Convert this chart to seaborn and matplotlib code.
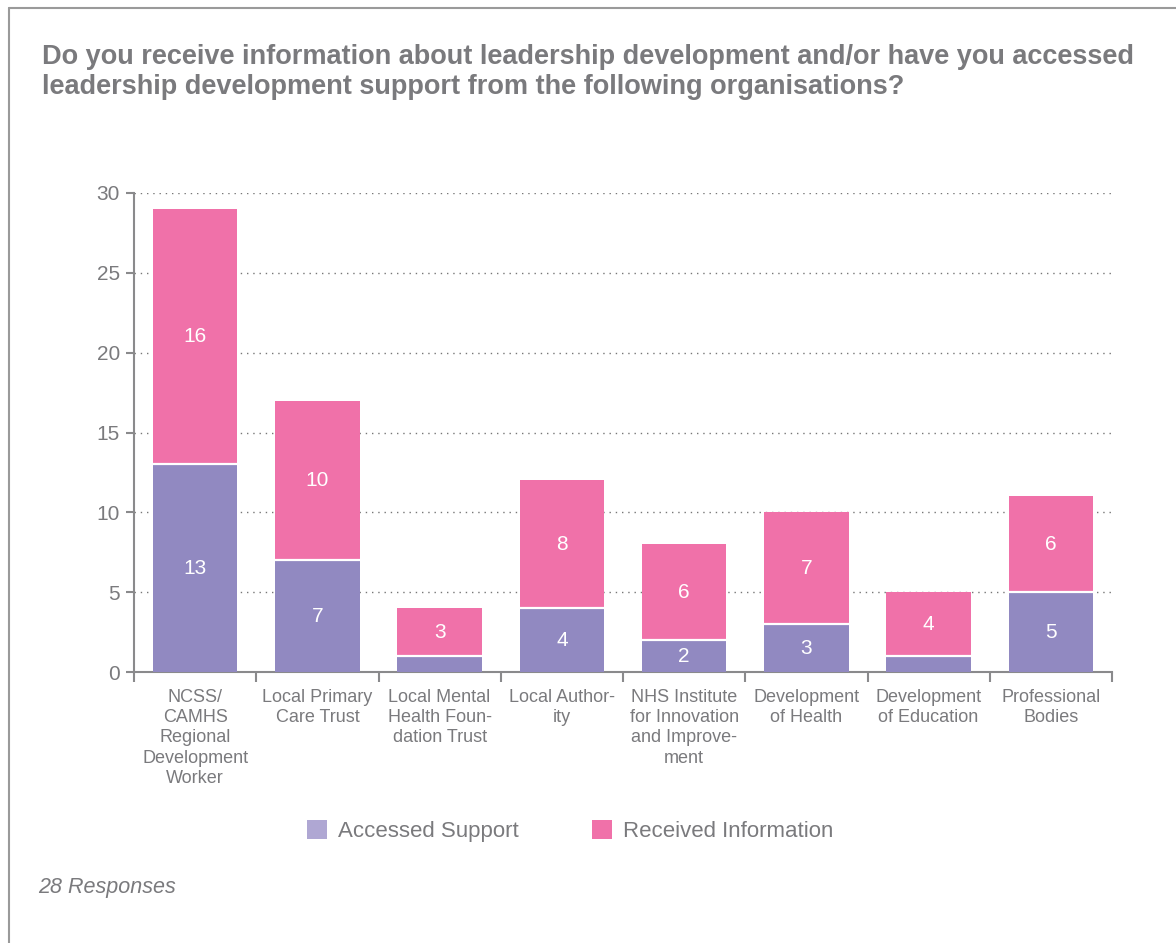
import matplotlib
matplotlib.use("Agg")
import matplotlib.pyplot as plt
import seaborn as sns
import pandas as pd
import numpy as np
from matplotlib.patches import Patch
from matplotlib.lines import Line2D

categories = [
    "NCSS/\nCAMHS\nRegional\nDevelopment\nWorker",
    "Local Primary\nCare Trust",
    "Local Mental\nHealth Foun-\ndation Trust",
    "Local Author-\nity",
    "NHS Institute\nfor Innovation\nand Improve-\nment",
    "Development\nof Health",
    "Development\nof Education",
    "Professional\nBodies",
]
accessed_support = [13, 7, 1, 4, 2, 3, 1, 5]
received_information = [16, 10, 3, 8, 6, 7, 4, 6]
y_ticks = [0, 5, 10, 15, 20, 25, 30]

PURPLE = "#9189c1"
PINK = "#f071a9"
LEG_PURPLE = "#afa7d3"
GRAY = "#7a7a7d"
AXGRAY = "#8a8a8c"

sns.set_style("white")
plt.rcParams["font.family"] = ["Liberation Sans", "DejaVu Sans"]

df = pd.DataFrame({
    "category": categories,
    "accessed": accessed_support,
    "received": received_information,
})
df["total"] = df["accessed"] + df["received"]

W, H = 1176, 943
fig = plt.figure(figsize=(W / 100, H / 100), dpi=100)
ax = fig.add_axes([134 / W, 1 - 672 / H, (1112 - 134) / W, (672 - 193) / H])

sns.barplot(data=df, x="category", y="total", color=PINK, saturation=1,
            width=0.69, ax=ax, linewidth=0, zorder=3)
sns.barplot(data=df, x="category", y="accessed", color=PURPLE, saturation=1,
            width=0.69, ax=ax, linewidth=0, zorder=4)

# white separator line on top of accessed segment
for i, a in enumerate(accessed_support):
    ax.plot([i - 0.345, i + 0.345], [a, a], color="white", lw=1.6, zorder=5,
            solid_capstyle="butt")

# value labels
for i, (a, r) in enumerate(zip(accessed_support, received_information)):
    if a >= 2:
        ax.text(i, a / 2, str(a), ha="center", va="center", color="white",
                fontsize=15, zorder=6)
    ax.text(i, a + r / 2, str(r), ha="center", va="center", color="white",
            fontsize=15, zorder=6)

ax.set_xlim(-0.5, len(categories) - 0.5)
ax.set_ylim(0, 30)
ax.set_yticks(y_ticks)
ax.set_xlabel("")
ax.set_ylabel("")

ax.yaxis.grid(True, linestyle=(0, (1, 3.5)), color="#777777", linewidth=1.0, zorder=0)
ax.xaxis.grid(False)
ax.set_axisbelow(True)

for s in ["top", "right"]:
    ax.spines[s].set_visible(False)
for s in ["left", "bottom"]:
    ax.spines[s].set_color(AXGRAY)
    ax.spines[s].set_linewidth(1.5)

ax.tick_params(axis="y", which="major", left=True, length=6, width=1.5,
               color=AXGRAY, labelcolor=GRAY, labelsize=15, pad=4)
ax.tick_params(axis="x", which="major", bottom=False, length=0,
               labelcolor=GRAY, labelsize=13, pad=12)
ax.set_xticks(np.arange(-0.5, len(categories), 1.0), minor=True)
ax.tick_params(axis="x", which="minor", bottom=True, length=7, width=1.5,
               color=AXGRAY, direction="out")
for lbl in ax.get_xticklabels():
    lbl.set_linespacing(1.26)
    lbl.set_va("top")

fig.text(42 / W, 1 - 72 / H,
         "Do you receive information about leadership development and/or have you accessed\n"
         "leadership development support from the following organisations?",
         ha="left", va="center", fontsize=19.5, fontweight="bold", color=GRAY,
         linespacing=1.25)

handles = [Patch(facecolor=LEG_PURPLE, edgecolor="none", label="Accessed Support"),
           Patch(facecolor=PINK, edgecolor="none", label="Received Information")]
fig.legend(handles=handles, loc="center", bbox_to_anchor=(570 / W, 1 - 831 / H),
           ncol=2, frameon=False, fontsize=16, labelcolor=GRAY,
           handlelength=0.9, handleheight=0.95, columnspacing=3.3, handletextpad=0.5)

fig.text(38 / W, 1 - 887 / H, "28 Responses", ha="left", va="center",
         fontsize=15.5, style="italic", color=GRAY)

# frame border (left and top)
fig.add_artist(Line2D([8.5 / W, 8.5 / W], [0, 1 - 8 / H], color="#9a9a9a", lw=1.5,
                      transform=fig.transFigure))
fig.add_artist(Line2D([8.5 / W, 1], [1 - 8 / H, 1 - 8 / H], color="#9a9a9a", lw=1.5,
                      transform=fig.transFigure))

fig.savefig("out.png", dpi=100, facecolor="white")
